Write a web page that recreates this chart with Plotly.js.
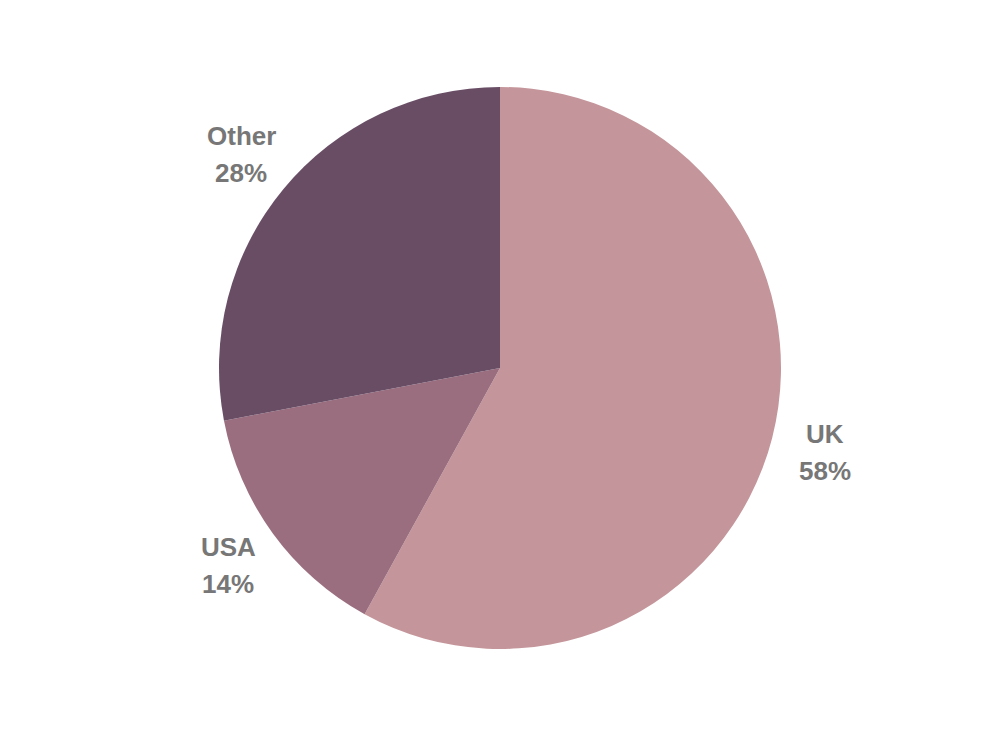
<!DOCTYPE html>
<html>
<head>
<meta charset="utf-8">
<script src="https://cdn.plot.ly/plotly-3.0.1.min.js"></script>
<style>html,body{margin:0;padding:0;background:#fff;}#chart{width:1000px;height:750px;}</style>
</head>
<body>
<div id="chart"></div>
<script>
var labels = ["UK", "USA", "Other"];
var values = [58, 14, 28];
var colors = ["#c4959a", "#9a6e7f", "#684d65"];

var W = 1000, H = 750, mt = 87, mb = 101;
var plotH = H - mt - mb;
var cx = 500, cy = mt + plotH / 2, r = plotH / 2;
var labelR = r + 55;

var total = values.reduce(function(a, b) { return a + b; }, 0);
var annotations = [];
var cum = 0;
var font = {family: "Liberation Sans, Arial, sans-serif", size: 26, color: "#777777"};
for (var i = 0; i < values.length; i++) {
  var mid = (cum + values[i] / 2) / total * 2 * Math.PI;
  cum += values[i];
  var px = cx + labelR * Math.sin(mid);
  var py = cy - labelR * Math.cos(mid);
  var ax = px / W;
  var ay = 1 - (py - mt) / plotH;
  annotations.push({xref: "paper", yref: "paper", x: ax, y: ay, text: "<b>" + labels[i] + "</b>",
    showarrow: false, xanchor: "center", yanchor: "middle", yshift: 18, font: font});
  annotations.push({xref: "paper", yref: "paper", x: ax, y: ay, text: "<b>" + Math.round(values[i] / total * 100) + "%</b>",
    showarrow: false, xanchor: "center", yanchor: "middle", yshift: -19, font: font});
}

var data = [{
  type: "pie",
  labels: labels,
  values: values,
  sort: false,
  direction: "clockwise",
  rotation: 0,
  marker: {colors: colors, line: {width: 0}},
  textinfo: "none",
  hoverinfo: "label+percent",
  showlegend: false
}];

var layout = {
  width: W, height: H,
  margin: {l: 0, r: 0, t: mt, b: mb, pad: 0},
  paper_bgcolor: "#ffffff",
  plot_bgcolor: "#ffffff",
  showlegend: false,
  annotations: annotations
};

Plotly.newPlot("chart", data, layout, {displayModeBar: false, staticPlot: true});
</script>
</body>
</html>
